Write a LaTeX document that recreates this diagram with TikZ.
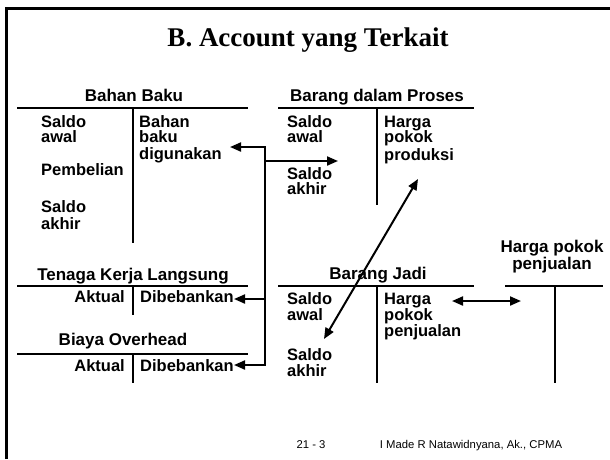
\documentclass[tikz,border=0pt]{standalone}
\usepackage{fontspec}
\setmainfont{Liberation Serif}
\setsansfont{Liberation Sans}
\usetikzlibrary{arrows.meta}
\begin{document}
\begin{tikzpicture}[x=1pt,y=-1pt,
  lbl/.style={inner sep=0pt,anchor=base west,font=\sffamily\bfseries\fontsize{16.5}{17}\selectfont},
  ttl/.style={inner sep=0pt,anchor=base,font=\sffamily\bfseries\fontsize{17}{17}\selectfont},
  rline/.style={line width=2pt},
  arr/.style={line width=2pt,-{Triangle[length=11pt,width=9pt]}},
  arrb/.style={line width=2pt,{Triangle[length=11pt,width=9pt]}-{Triangle[length=11pt,width=9pt]}},
  foot/.style={inner sep=0pt,anchor=base,font=\sffamily\fontsize{11.3}{13}\selectfont},
  frame/.style={line width=3pt,line join=miter}]
\useasboundingbox (0,0) rectangle (610,459);
\draw[frame] (6,459) -- (6,8) -- (610,8);
\node[inner sep=0pt,anchor=base,font=\rmfamily\bfseries\fontsize{27}{30}\selectfont] (title) at (308,46) {B. Account yang Terkait};

% Bahan Baku
\node[ttl] (bbT) at (134,101) {Bahan Baku};
\draw[rline] (17,108) -- (248,108) (133,108) -- (133,243);
\node[lbl] (bb1) at (41,127) {Saldo};
\node[lbl] (bb2) at (41,142) {awal};
\node[lbl] (bb3) at (41,175) {Pembelian};
\node[lbl] (bb4) at (41,212) {Saldo};
\node[lbl] (bb5) at (41,229) {akhir};
\node[lbl] (bb6) at (139,127) {Bahan};
\node[lbl] (bb7) at (139,142) {baku};
\node[lbl] (bb8) at (139,159) {digunakan};

% Barang dalam Proses
\node[ttl] (bdpT) at (377,101) {Barang dalam Proses};
\draw[rline] (278,108) -- (474,108) (377,108) -- (377,205);
\node[lbl] (bdp1) at (287,127) {Saldo};
\node[lbl] (bdp2) at (287,142) {awal};
\node[lbl] (bdp3) at (287,179) {Saldo};
\node[lbl] (bdp4) at (287,194) {akhir};
\node[lbl] (bdp5) at (384,127) {Harga};
\node[lbl] (bdp6) at (384,142) {pokok};
\node[lbl] (bdp7) at (384,160) {produksi};

% Tenaga Kerja Langsung
\node[ttl] (tkT) at (133,280) {Tenaga Kerja Langsung};
\draw[rline] (17,286) -- (248,286) (133,286) -- (133,315);
\node[lbl,anchor=base east] (tk1) at (125,302) {Aktual};
\node[lbl] (tk2) at (140,302) {Dibebankan};

% Biaya Overhead
\node[ttl] (ohT) at (123,345) {Biaya Overhead};
\draw[rline] (17,354) -- (248,354) (133,354) -- (133,383);
\node[lbl,anchor=base east] (oh1) at (125,371) {Aktual};
\node[lbl] (oh2) at (140,371) {Dibebankan};

% Barang Jadi
\node[ttl] (bjT) at (378,279) {Barang Jadi};
\draw[rline] (278,286) -- (474,286) (377,286) -- (377,383);
\node[lbl] (bj1) at (287,304) {Saldo};
\node[lbl] (bj2) at (287,320) {awal};
\node[lbl] (bj3) at (287,360) {Saldo};
\node[lbl] (bj4) at (287,376) {akhir};
\node[lbl] (bj5) at (384,304) {Harga};
\node[lbl] (bj6) at (384,320) {pokok};
\node[lbl] (bj7) at (384,336) {penjualan};

% Harga pokok penjualan
\node[ttl,align=center,font=\sffamily\bfseries\fontsize{17}{15.5}\selectfont] (hpT) at (552,269) {Harga pokok\\penjualan};
\draw[rline] (505,286) -- (603,286) (555,286) -- (555,383);

% connectors
\coordinate (bbIn) at (230,147);
\coordinate (vTop) at (265,147);
\coordinate (vMid) at (265,161);
\coordinate (vTk) at (265,299);
\coordinate (vBot) at (265,365);
\coordinate (tkIn) at (234,299);
\coordinate (ohIn) at (234,365);
\coordinate (bdpIn) at (338,161);
\draw[arrb,line join=miter] (ohIn) -- (vBot) -- (vTop) -- (bbIn);
\draw[arr] (vMid) -- (bdpIn);
\draw[arr] (vTk) -- (tkIn);

\coordinate (dgTop) at (418,179);
\coordinate (dgBot) at (324,339);
\draw[arrb] (dgBot) -- (dgTop);

\coordinate (hL) at (452,301);
\coordinate (hR) at (521,301);
\draw[arrb] (hL) -- (hR);

% footer
\node[foot] (pg) at (311,448) {21 - 3};
\node[foot] (auth) at (471,448) {I Made R Natawidnyana, Ak., CPMA};
\end{tikzpicture}
\end{document}
